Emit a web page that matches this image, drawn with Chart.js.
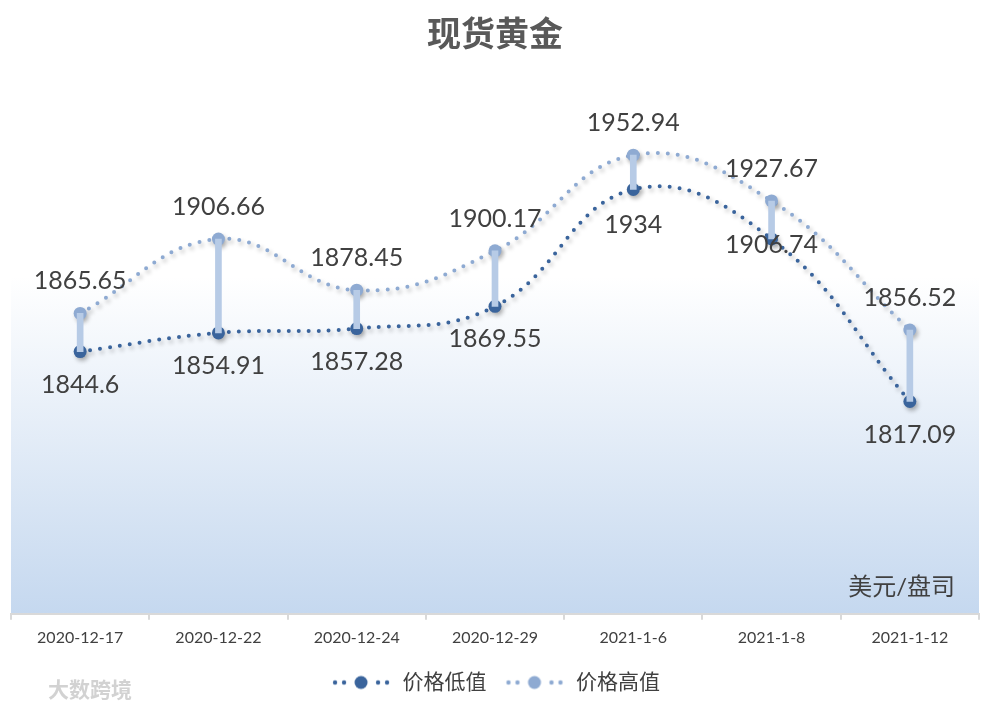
<!DOCTYPE html>
<html>
<head>
<meta charset="utf-8">
<script src="https://cdn.jsdelivr.net/npm/chart.js@4.4.1/dist/chart.umd.min.js"></script>
<style>
  html, body { margin: 0; padding: 0; background: #fff; }
  #wrap { width: 994px; height: 712px; position: relative; }
</style>
</head>
<body>
<div id="wrap"><canvas id="canvas" width="994" height="712"></canvas></div>
<script>
// 数据
const dates = ["2020-12-17", "2020-12-22", "2020-12-24", "2020-12-29", "2021-1-6", "2021-1-8", "2021-1-12"];
const lowValues = [1844.6, 1854.91, 1857.28, 1869.55, 1934, 1906.74, 1817.09];
const highValues = [1865.65, 1906.66, 1878.45, 1900.17, 1952.94, 1927.67, 1856.52];

const LOW_COLOR = "#3a649c";
const HIGH_COLOR = "#8eaad2";
const BAR_COLOR = "#b7cbe6";
const TEXT_COLOR = "#404040";
const FONT = "Lato, 'Noto Sans CJK SC', sans-serif";

// 低值标签的偏移（2021-1-8 的标签在原图里压在点上）
const lowLabelDy = [33, 33, 33, 33, 35, 6, 33];

// 图例里的小图标：点线 + 圆点
function legendIcon(color) {
  const c = document.createElement("canvas");
  c.width = 62;
  c.height = 16;
  const g = c.getContext("2d");
  g.fillStyle = color;
  [5, 14, 48, 57].forEach((x) => {
    g.beginPath();
    g.arc(x, 8, 2.2, 0, Math.PI * 2);
    g.fill();
  });
  g.beginPath();
  g.arc(31, 8, 6.5, 0, Math.PI * 2);
  g.fill();
  return c;
}

const bgPlugin = {
  id: "bgPlugin",
  beforeDraw(chart) {
    const { ctx, chartArea } = chart;
    const grad = ctx.createLinearGradient(0, chartArea.top, 0, chartArea.bottom);
    grad.addColorStop(0, "#ffffff");
    grad.addColorStop(0.38, "#ffffff");
    grad.addColorStop(1, "#c5d8ef");
    ctx.save();
    ctx.fillStyle = grad;
    ctx.fillRect(chartArea.left, chartArea.top, chartArea.right - chartArea.left, chartArea.bottom - chartArea.top);
    ctx.restore();
  },
};

const shadowPlugin = {
  id: "shadowPlugin",
  beforeDatasetDraw(chart, args) {
    const ctx = chart.ctx;
    ctx.save();
    if (args.meta.type === "line") {
      ctx.shadowColor = "rgba(0,0,0,0.28)";
      ctx.shadowBlur = 4;
      ctx.shadowOffsetX = 2;
      ctx.shadowOffsetY = 3;
    }
  },
  afterDatasetDraw(chart) {
    chart.ctx.restore();
  },
};

const labelPlugin = {
  id: "labelPlugin",
  afterDatasetsDraw(chart) {
    const ctx = chart.ctx;
    const lowMeta = chart.getDatasetMeta(1);
    const highMeta = chart.getDatasetMeta(2);
    ctx.save();
    ctx.font = "25px " + FONT;
    ctx.fillStyle = TEXT_COLOR;
    ctx.textAlign = "center";
    ctx.textBaseline = "middle";
    highMeta.data.forEach((pt, i) => {
      ctx.fillText(String(highValues[i]), pt.x, pt.y - 32);
    });
    lowMeta.data.forEach((pt, i) => {
      ctx.fillText(String(lowValues[i]), pt.x, pt.y + lowLabelDy[i]);
    });
    // 单位
    ctx.font = "24px " + FONT;
    ctx.textAlign = "right";
    ctx.fillText("美元/盘司", chart.chartArea.right - 24, chart.chartArea.bottom - 27);
    // 水印
    ctx.font = "bold 21px " + FONT;
    ctx.textAlign = "left";
    ctx.fillStyle = "rgba(205,205,205,0.9)";
    ctx.fillText("大数跨境", 48, 690);
    ctx.restore();
  },
};

const ctx = document.getElementById("canvas").getContext("2d");
new Chart(ctx, {
  type: "line",
  data: {
    labels: dates,
    datasets: [
      {
        type: "bar",
        label: "高低线",
        data: lowValues.map((v, i) => [v, highValues[i]]),
        backgroundColor: BAR_COLOR,
        barThickness: 6,
        order: 0,
      },
      {
        label: "价格低值",
        data: lowValues,
        borderColor: LOW_COLOR,
        backgroundColor: LOW_COLOR,
        borderWidth: 4,
        borderDash: [0, 10],
        borderCapStyle: "round",
        tension: 0.42,
        pointStyle: "circle",
        pointRadius: 6.5,
        pointBorderWidth: 0,
        pointBackgroundColor: LOW_COLOR,
        order: 2,
      },
      {
        label: "价格高值",
        data: highValues,
        borderColor: HIGH_COLOR,
        backgroundColor: HIGH_COLOR,
        borderWidth: 4,
        borderDash: [0, 10],
        borderCapStyle: "round",
        tension: 0.42,
        pointStyle: "circle",
        pointRadius: 6.5,
        pointBorderWidth: 0,
        pointBackgroundColor: HIGH_COLOR,
        order: 1,
      },
    ],
  },
  options: {
    responsive: false,
    animation: false,
    layout: {
      padding: { left: 11, right: 15, top: 0, bottom: 9 },
    },
    scales: {
      x: {
        offset: true,
        grid: {
          offset: true,
          drawOnChartArea: false,
          drawTicks: true,
          tickLength: 6,
          color: "#d9d9d9",
          lineWidth: 2,
        },
        border: { color: "#d9d9d9", width: 2 },
        ticks: {
          color: TEXT_COLOR,
          font: { family: FONT, size: 16 },
          padding: 8,
          maxRotation: 0,
        },
      },
      y: {
        display: false,
        min: 1700,
        max: 2000,
      },
    },
    plugins: {
      title: {
        display: true,
        text: "现货黄金",
        color: "#595959",
        font: { family: FONT, size: 34, weight: "bold" },
        padding: { top: 15, bottom: 14 },
      },
      legend: {
        position: "bottom",
        labels: {
          usePointStyle: true,
          pointStyleWidth: 62,
          color: TEXT_COLOR,
          font: { family: FONT, size: 21 },
          padding: 17,
          generateLabels: (chart) =>
            [1, 2].map((i) => ({
              text: chart.data.datasets[i].label,
              pointStyle: legendIcon(chart.data.datasets[i].borderColor),
              fillStyle: chart.data.datasets[i].borderColor,
              strokeStyle: chart.data.datasets[i].borderColor,
              fontColor: TEXT_COLOR,
              lineWidth: 0,
              hidden: false,
              datasetIndex: i,
            })),
        },
      },
      tooltip: { enabled: false },
    },
  },
  plugins: [bgPlugin, shadowPlugin, labelPlugin],
});
</script>
</body>
</html>
